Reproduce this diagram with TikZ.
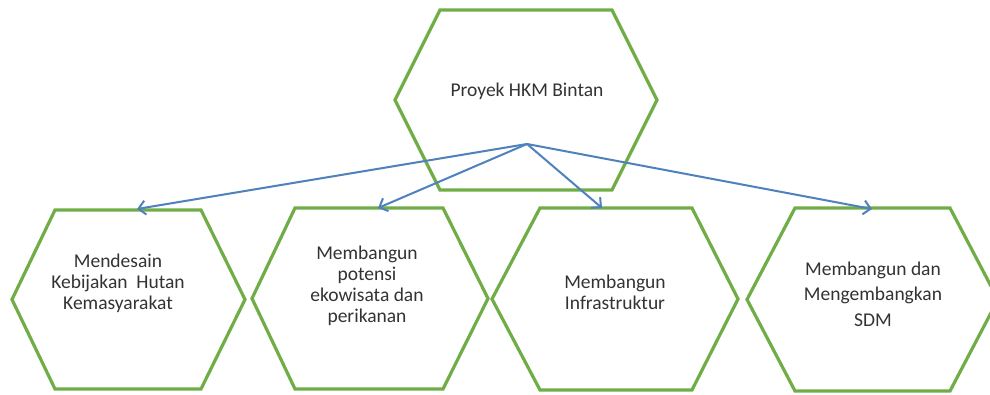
\documentclass[tikz,border=0pt]{standalone}
\usepackage{fontspec}
\setmainfont{Carlito}
\usetikzlibrary{arrows.meta}
\definecolor{hexgreen}{RGB}{112,173,71}
\definecolor{linkblue}{RGB}{79,129,189}
\tikzset{
  hexline/.style={draw=hexgreen, line width=3.2pt, line join=miter},
  label/.style={align=center, text=black!80, inner sep=0pt,
    font=\fontsize{19.5}{21}\selectfont},
  widelabel/.style={label, font=\fontsize{19.5}{25.5}\selectfont},
  link/.style={draw=linkblue, line width=2pt,
    -{Straight Barb[length=7pt,width=14pt]}}
}
% hexagon: left point x, top-left x, top-right x, right point x, top y, bottom y
\newcommand{\hexshape}[6]{%
  \path[hexline] (#1,{(#5+#6)/2}) -- (#2,#5) -- (#3,#5) -- (#4,{(#5+#6)/2})
    -- (#3,#6) -- (#2,#6) -- cycle;}
\begin{document}
\begin{tikzpicture}[x=1pt,y=-1pt]
  \useasboundingbox (0,0) rectangle (990,395);
  \clip (0,0) rectangle (990,395);
  \fill[white] (0,0) rectangle (990,395);

  % outlines
  \hexshape{395}{440}{612}{657}{10}{190}
  \hexshape{12}{55}{201}{245}{210}{389}
  \hexshape{252}{295}{443}{488}{208}{389}
  \hexshape{492}{540}{692}{738}{208}{390}
  \hexshape{747}{795}{950}{998}{208}{391}

  % captions
  \node[label] (root) at (527,91) {Proyek HKM Bintan};
  \node[label] (kebijakan) at (118,283) {Mendesain\\Kebijakan\ \ Hutan\\Kemasyarakat};
  \node[label] (ekowisata) at (367,286) {Membangun\\potensi\\ekowisata dan\\perikanan};
  \node[label] (infra) at (615,292) {Membangun\\Infrastruktur};
  \node[widelabel] (sdm) at (873,294) {Membangun dan\\Mengembangkan\\SDM};

  % links from the project down to each programme
  \coordinate (hub) at (527,144);
  \coordinate (toKebijakan) at (137,209);
  \coordinate (toEkowisata) at (378,208);
  \coordinate (toInfra) at (602,208);
  \coordinate (toSdm) at (872,209);
  \draw[link] (hub) -- (toKebijakan);
  \draw[link] (hub) -- (toEkowisata);
  \draw[link] (hub) -- (toInfra);
  \draw[link] (hub) -- (toSdm);
\end{tikzpicture}
\end{document}
